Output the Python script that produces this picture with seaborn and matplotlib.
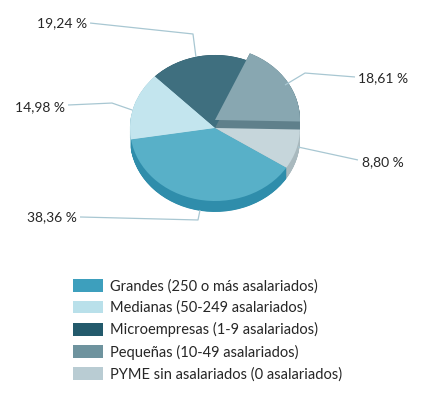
import numpy as np
import matplotlib
matplotlib.use("Agg")
import matplotlib.pyplot as plt
import seaborn as sns
from matplotlib.patches import Patch

sns.set_theme(style="white")
plt.rcParams['font.family'] = ['Lato', 'DejaVu Sans']

# Data (pie order, counter-clockwise starting at left)
pie_categories = ["Grandes (250 o más asalariados)",
                  "PYME sin asalariados (0 asalariados)",
                  "Pequeñas (10-49 asalariados)",
                  "Microempresas (1-9 asalariados)",
                  "Medianas (50-249 asalariados)"]
pie_values = [38.36, 8.80, 18.61, 19.24, 14.98]
pie_labels = ["38,36 %", "8,80 %", "18,61 %", "19,24 %", "14,98 %"]

legend_order = ["Grandes (250 o más asalariados)",
                "Medianas (50-249 asalariados)",
                "Microempresas (1-9 asalariados)",
                "Pequeñas (10-49 asalariados)",
                "PYME sin asalariados (0 asalariados)"]

top_colors = {"Grandes (250 o más asalariados)": "#58b0c8",
              "PYME sin asalariados (0 asalariados)": "#c6d6db",
              "Pequeñas (10-49 asalariados)": "#88a7b1",
              "Microempresas (1-9 asalariados)": "#3f6f7f",
              "Medianas (50-249 asalariados)": "#c3e5ee"}
side_colors = {"Grandes (250 o más asalariados)": "#2f8dab",
               "PYME sin asalariados (0 asalariados)": "#a9b9be",
               "Pequeñas (10-49 asalariados)": "#5f808b",
               "Microempresas (1-9 asalariados)": "#2e5968",
               "Medianas (50-249 asalariados)": "#9fcad6"}
legend_colors = {"Grandes (250 o más asalariados)": "#3d9fbd",
                 "Medianas (50-249 asalariados)": "#b9e0ea",
                 "Microempresas (1-9 asalariados)": "#235a6c",
                 "Pequeñas (10-49 asalariados)": "#6e939e",
                 "PYME sin asalariados (0 asalariados)": "#b9ccd3"}

W, H = 437, 397
fig = plt.figure(figsize=(W / 100, H / 100), dpi=100)
fig.patch.set_facecolor("white")

# pie axes covers top 240 px
ax = fig.add_axes([0, 1 - 240 / H, 1, 240 / H])
ax.set_axis_off()

cx, cy, rx, ry = 215, 128, 85, 73
start = 189
thick = 0.15
lift = 0.11
raised = "Pequeñas (10-49 asalariados)"

tops = [top_colors[c] for c in pie_categories]
sides = [side_colors[c] for c in pie_categories]
ri = pie_categories.index(raised)

for d in np.linspace(thick, 0, 30):
    ws, _ = ax.pie(pie_values, colors=sides, startangle=start, counterclock=True,
                   center=(0, -d), radius=1, wedgeprops=dict(linewidth=0))
    ws[ri].set_center((0, -d + lift))
    ws[ri].set_zorder(1.5)
    for i, w in enumerate(ws):
        if i != ri:
            w.set_zorder(1)

ws, _ = ax.pie(pie_values, colors=tops, startangle=start, counterclock=True,
               center=(0, 0), radius=1, wedgeprops=dict(linewidth=0))
for i, w in enumerate(ws):
    w.set_zorder(2)
ws[ri].set_center((0, lift))
ws[ri].set_zorder(3)

ax.set_aspect('auto')
ax.set_xlim(-cx / rx, (W - cx) / rx)
ax.set_ylim(-(240 - cy) / ry, cy / ry)

# labels with leader lines (data coords)
line_color = "#a8c7d2"
label_specs = {
    "19,24 %": dict(pts=[(-0.224, 0.973), (-0.259, 1.288), (-1.47, 1.438)], tx=-1.506, ty=1.438, ha="right"),
    "18,61 %": dict(pts=[(0.824, 0.589), (1.059, 0.753), (1.647, 0.699)], tx=1.682, ty=0.685, ha="left"),
    "14,98 %": dict(pts=[(-0.976, 0.247), (-1.212, 0.342), (-1.729, 0.315)], tx=-1.765, ty=0.288, ha="right"),
    "8,80 %": dict(pts=[(0.976, -0.260), (1.682, -0.438)], tx=1.729, ty=-0.466, ha="left"),
    "38,36 %": dict(pts=[(-0.176, -1.123), (-0.2, -1.26), (-1.588, -1.219)], tx=-1.624, ty=-1.219, ha="right"),
}
for lab in pie_labels:
    s = label_specs[lab]
    xs, ys = zip(*s["pts"])
    ax.plot(xs, ys, color=line_color, lw=0.9, zorder=4, solid_capstyle="butt")
    ax.text(s["tx"], s["ty"], lab, ha=s["ha"], va="center", fontsize=10,
            color="#262626", zorder=5)

handles = [Patch(facecolor=legend_colors[c], edgecolor="none") for c in legend_order]
fs = 10.5
fs_px = fs * 100 / 72
leg = fig.legend(handles, legend_order, loc="upper left",
                 bbox_to_anchor=(73 / W, 1 - 279 / H), frameon=False,
                 fontsize=fs, handlelength=30 / fs_px, handleheight=14 / fs_px,
                 handletextpad=7 / fs_px, labelspacing=0.5, borderpad=0,
                 borderaxespad=0)
for t in leg.get_texts():
    t.set_color("#262626")

fig.savefig("out.png", dpi=100, facecolor="white")
